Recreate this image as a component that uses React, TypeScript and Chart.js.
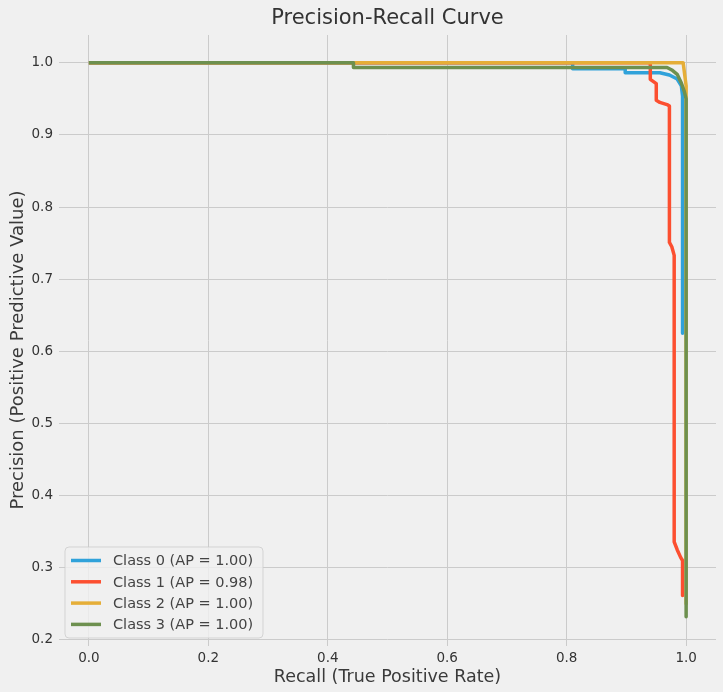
import React, { useEffect, useRef } from "react";
import { Chart, registerables } from "chart.js";

Chart.register(...registerables);

// ---- Data ----
const classLabels = [
  "Class 0 (AP = 1.00)",
  "Class 1 (AP = 0.98)",
  "Class 2 (AP = 1.00)",
  "Class 3 (AP = 1.00)",
];

const recall0 = [0, 0.81, 0.81, 0.898, 0.898, 0.956, 0.972, 0.985, 0.992, 0.994, 0.994];
const precision0 = [1.0, 1.0, 0.9917, 0.9917, 0.9862, 0.9862, 0.983, 0.9775, 0.968, 0.954, 0.625];

const recall1 = [0, 0.94, 0.94, 0.94, 0.95, 0.95, 0.956, 0.968, 0.972, 0.972, 0.976, 0.98, 0.98, 0.985, 0.991, 0.994, 0.994];
const precision1 = [1.0, 1.0, 0.993, 0.977, 0.971, 0.948, 0.945, 0.942, 0.94, 0.751, 0.745, 0.733, 0.336, 0.325, 0.314, 0.31, 0.2615];

const recall2 = [0, 0.995, 1.0, 1.0];
const precision2 = [1.0, 1.0, 0.968, 0.25];

const recall3 = [0, 0.443, 0.443, 0.968, 0.976, 0.985, 0.992, 0.997, 1.0, 1.0];
const precision3 = [1.0, 1.0, 0.9935, 0.9935, 0.99, 0.984, 0.972, 0.96, 0.95, 0.232];

const xTicks = [0.0, 0.2, 0.4, 0.6, 0.8, 1.0];
const yTicks = [0.2, 0.3, 0.4, 0.5, 0.6, 0.7, 0.8, 0.9, 1.0];

const colors = ["#30a2da", "#fc4f30", "#e5ae38", "#6d904f"];

const titleText = "Precision-Recall Curve";
const xLabel = "Recall (True Positive Rate)";
const yLabel = "Precision (Positive Predictive Value)";

const FONT = "'DejaVu Sans', sans-serif";

const series = [
  [recall0, precision0],
  [recall1, precision1],
  [recall2, precision2],
  [recall3, precision3],
];

const textPlugin = {
  id: "mplText",
  beforeDraw(chart: any) {
    const ctx = chart.ctx;
    ctx.save();
    ctx.fillStyle = "#f0f0f0";
    ctx.fillRect(0, 0, chart.width, chart.height);
    ctx.restore();
  },
  afterDraw(chart: any) {
    const ctx = chart.ctx;
    const area = chart.chartArea;
    const cx = (area.left + area.right) / 2;
    ctx.save();
    // title
    ctx.fillStyle = "#333333";
    ctx.textAlign = "center";
    ctx.textBaseline = "middle";
    ctx.font = `21px ${FONT}`;
    ctx.fillText(titleText, cx, 19);
    // x label
    ctx.fillStyle = "#3a3a3a";
    ctx.font = `17.5px ${FONT}`;
    ctx.fillText(xLabel, cx, 677);
    // y label
    ctx.save();
    ctx.translate(18, 350);
    ctx.rotate(-Math.PI / 2);
    ctx.font = `18px ${FONT}`;
    ctx.fillText(yLabel, 0, 0);
    ctx.restore();

    // legend (lower left, inside axes)
    const bx = 65, by = 547, bw = 198, bh = 91, r = 4;
    ctx.beginPath();
    ctx.moveTo(bx + r, by);
    ctx.lineTo(bx + bw - r, by);
    ctx.quadraticCurveTo(bx + bw, by, bx + bw, by + r);
    ctx.lineTo(bx + bw, by + bh - r);
    ctx.quadraticCurveTo(bx + bw, by + bh, bx + bw - r, by + bh);
    ctx.lineTo(bx + r, by + bh);
    ctx.quadraticCurveTo(bx, by + bh, bx, by + bh - r);
    ctx.lineTo(bx, by + r);
    ctx.quadraticCurveTo(bx, by, bx + r, by);
    ctx.closePath();
    ctx.fillStyle = "rgba(240,240,240,0.8)";
    ctx.fill();
    ctx.strokeStyle = "rgba(204,204,204,0.8)";
    ctx.lineWidth = 1;
    ctx.stroke();

    ctx.font = `14.5px ${FONT}`;
    ctx.textAlign = "left";
    ctx.textBaseline = "middle";
    classLabels.forEach((lbl, i) => {
      const y = 560.5 + i * 21.3;
      ctx.strokeStyle = colors[i];
      ctx.lineWidth = 3.5;
      ctx.beginPath();
      ctx.moveTo(71, y);
      ctx.lineTo(101, y);
      ctx.stroke();
      ctx.fillStyle = "#444444";
      ctx.fillText(lbl, 113, y + 1);
    });
    ctx.restore();
  },
};

export default function App() {
  const canvasRef = useRef<HTMLCanvasElement | null>(null);

  useEffect(() => {
    document.body.style.margin = "0";
    const canvas = canvasRef.current;
    if (!canvas) return;
    const datasets = series.map(([xs, ys], i) => ({
      label: classLabels[i],
      data: xs.map((x, j) => ({ x, y: ys[j] })),
      borderColor: colors[i],
      backgroundColor: colors[i],
      borderWidth: 3.5,
      pointRadius: 0,
      showLine: true,
      fill: false,
      tension: 0,
      order: series.length - 1 - i,
      borderJoinStyle: "round" as const,
      borderCapStyle: "butt" as const,
    }));

    const chart = new Chart(canvas, {
      type: "scatter",
      data: { datasets },
      options: {
        responsive: false,
        animation: false,
        devicePixelRatio: 1,
        layout: { padding: { left: 0, top: 35, right: 7, bottom: 0 } },
        plugins: {
          legend: { display: false },
          title: { display: false },
          tooltip: { enabled: false },
        },
        scales: {
          x: {
            type: "linear",
            min: -0.05,
            max: 1.05,
            afterFit(scale: any) {
              scale.height = 46;
            },
            afterBuildTicks(scale: any) {
              scale.ticks = xTicks.map((v) => ({ value: v }));
            },
            grid: { color: "#cbcbcb", lineWidth: 1, drawTicks: false },
            border: { display: false },
            ticks: {
              padding: 4,
              color: "#333333",
              font: { family: FONT, size: 13.5 },
              callback: (v: any) => Number(v).toFixed(1),
            },
          },
          y: {
            type: "linear",
            min: 0.1915,
            max: 1.0385,
            afterFit(scale: any) {
              scale.width = 59;
            },
            afterBuildTicks(scale: any) {
              scale.ticks = yTicks.map((v) => ({ value: v }));
            },
            grid: { color: "#cbcbcb", lineWidth: 1, drawTicks: false },
            border: { display: false },
            ticks: {
              padding: 6,
              color: "#333333",
              font: { family: FONT, size: 13.5 },
              callback: (v: any) => Number(v).toFixed(1),
            },
          },
        },
      },
      plugins: [textPlugin],
    });
    return () => chart.destroy();
  }, []);

  return (
    <div style={{ width: 723, height: 692 }}>
      <canvas ref={canvasRef} width={723} height={692} style={{ display: "block" }} />
    </div>
  );
}
